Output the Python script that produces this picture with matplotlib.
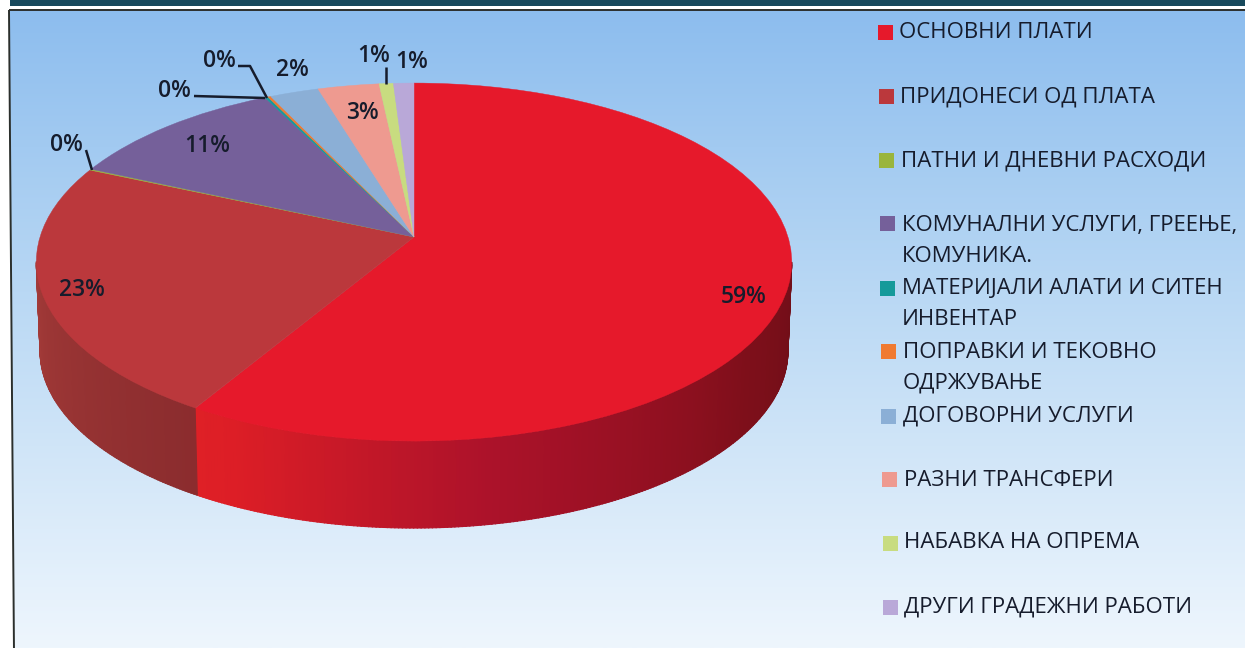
#!/usr/bin/env python3

import numpy as np
import matplotlib
matplotlib.use('Agg')
from matplotlib import pyplot as pp, transforms as mtrans
from matplotlib.patches import Polygon, Rectangle
from matplotlib.colors import to_rgb

################################################################################
# Data
categories = ['ОСНОВНИ ПЛАТИ', 'ПРИДОНЕСИ ОД ПЛАТА', 'ПАТНИ И ДНЕВНИ РАСХОДИ',
	'КОМУНАЛНИ УСЛУГИ, ГРЕЕЊЕ,\nКОМУНИКА.', 'МАТЕРИЈАЛИ АЛАТИ И СИТЕН\nИНВЕНТАР',
	'ПОПРАВКИ И ТЕКОВНО\nОДРЖУВАЊЕ', 'ДОГОВОРНИ УСЛУГИ', 'РАЗНИ ТРАНСФЕРИ',
	'НАБАВКА НА ОПРЕМА', 'ДРУГИ ГРАДЕЖНИ РАБОТИ']
values = [58.6, 23.0, 0.1, 10.9, 0.15, 0.15, 2.4, 3.0, 0.7, 1.0]
colors = ['#e6192b', '#bb383c', '#9ab53c', '#75609a', '#159a9a',
	'#f07a30', '#8bafd6', '#ee9a90', '#c8dc80', '#b9a8d8']

################################################################################
# Layout, all in image pixels
W, H = 1245, 648
CX, CY = 414, 237
RX, RY, K = 374., 175.5, 0.14		# perspective of the disc
DEPTH, BOT_SCALE = 89., 0.99

label_pos = [(744,297), (82,290), (66,145), (207,146), (174,91),
	(219,61), (292,70), (362,113), (374,56), (412,62)]
leaders = [[(92,170),(86,150)], [(194,96),(265,98)],
	[(238,66),(250,66),(267,98)], [(386,67),(386,84)]]
swatch_xy = [(878,25), (879,89), (879,153), (880,216), (880,281),
	(881,344), (881,409), (882,472), (883,536), (883,600)]
text_xy = [(899,33), (900,97), (901,161), (902,241), (902,304),
	(903,368), (903,416), (904,480), (904,543), (904,607)]

# shading of the rim, by clockwise angle from the top
rim_angle = [98, 125, 170, 205, 211, 211.01, 262]
rim_color = ['#700e18', '#7e0f1a', '#ac122a', '#dd1e26', '#df2026', '#8b2c2e', '#a23a38']

plot_font = 'Open Sans'
text_col = '#161c2c'

################################################################################
def disc_xy(x, y, scale=1., dy=0.):
	w = 1 + K*y
	return CX + scale*RX*x/w, CY + dy - scale*RY*y/w

class Persp(mtrans.Transform):
	input_dims = 2
	output_dims = 2
	def transform_non_affine(self, xy):
		xy = np.asarray(xy)
		px, py = disc_xy(xy[:,0], xy[:,1])
		return np.column_stack((px, py))

fig = pp.figure(figsize=(W/100, H/100), dpi=100, facecolor='white')
ax = fig.add_axes([0, 0, 1, 1])

# background gradient inside the slightly skewed frame
top = np.array(to_rgb('#8bbcee'))
mid = np.array(to_rgb('#b9d8f4'))
bot = np.array(to_rgb('#eef6fd'))
t = np.linspace(0, 1, 256)
grad = np.stack([np.interp(t, [0, .45, 1], [top[i], mid[i], bot[i]]) for i in range(3)], axis=1)[:,None,:]
im = ax.imshow(grad, extent=(0, W, H, 0), aspect='auto', zorder=0)
frame = Polygon([(9,10), (W+5,10), (W+5,H+5), (14,H+5)], closed=True, transform=ax.transData,
	fc='none', ec='#2b2f2c', lw=1.4, zorder=1)
ax.add_patch(frame)
im.set_clip_path(frame)
ax.add_patch(Rectangle((10,0), W-10, 6, fc='#17495c', ec='none', zorder=1))

# rim first, then the top of the pie over it
steps = np.arange(98, 262, 0.5)
cols = np.array([np.interp(steps+0.25, rim_angle, [to_rgb(c)[i] for c in rim_color]) for i in range(3)]).T
for a, col in zip(steps, cols):
	ph = np.radians(90 - np.array([a, a+0.6]))
	x, y = np.cos(ph), np.sin(ph)
	tx, ty = disc_xy(x, y)
	bx, by = disc_xy(x, y, BOT_SCALE, DEPTH)
	ax.add_patch(Polygon([(tx[0],ty[0]), (tx[1],ty[1]), (bx[1],by[1]), (bx[0],by[0])],
		closed=True, fc=col, ec=col, lw=0.8, zorder=2))

wedges, _ = ax.pie(values, colors=colors, startangle=90, counterclock=False,
	wedgeprops=dict(lw=0.3, zorder=3))
for w, c in zip(wedges, colors):
	w.set_edgecolor(c)
	w.set_transform(Persp() + ax.transData)
	w.set_zorder(3)

for v, (x, y) in zip(values, label_pos):
	ax.text(x, y, '%d%%' % round(v), ha='center', va='center', fontsize=16.5,
		family=plot_font, weight='semibold', color=text_col, zorder=5)
for seg in leaders:
	seg = np.array(seg)
	ax.plot(seg[:,0], seg[:,1], color=text_col, lw=1.8, zorder=4, solid_capstyle='butt')

for name, c, (sx, sy), (tx, ty) in zip(categories, colors, swatch_xy, text_xy):
	ax.add_patch(Rectangle((sx, sy), 14.5, 14.5, fc=c, ec='none', zorder=4))
	ax.text(tx, ty, name, ha='left', va='center', fontsize=16, family=plot_font,
		color=text_col, linespacing=1.6, zorder=5)

ax.set_xlim(0, W)
ax.set_ylim(H, 0)
ax.axis('off')
fig.savefig('out.png', dpi=100)
